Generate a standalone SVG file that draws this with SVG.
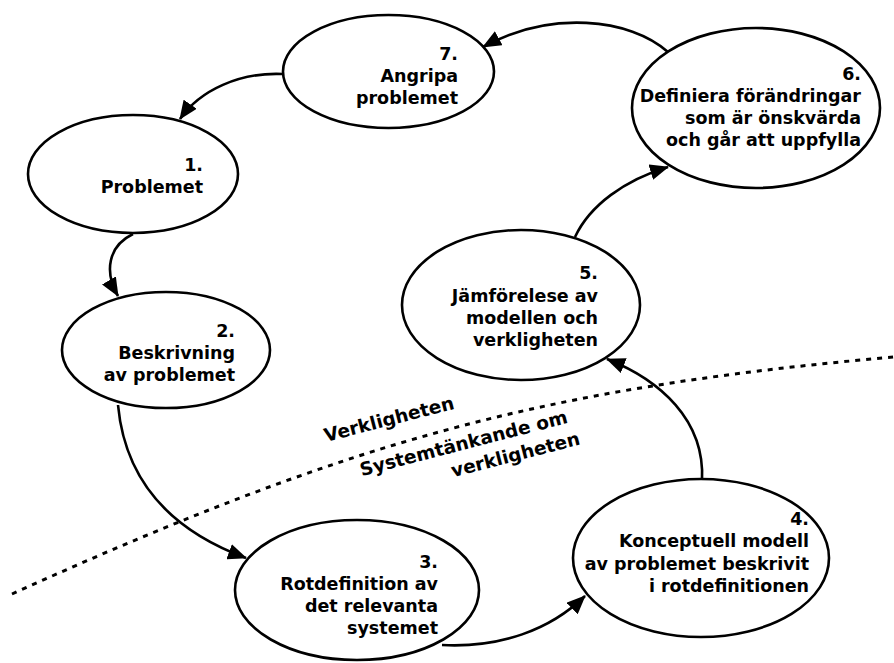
<svg xmlns="http://www.w3.org/2000/svg" width="894" height="663" viewBox="0 0 894 663">
  <style>
    .node ellipse { fill: #ffffff; stroke: #000000; stroke-width: 2.6; }
    .node text, .zone { font-family: "DejaVu Sans", Verdana, sans-serif; font-weight: bold; font-size: 17.5px; fill: #000000; text-anchor: end; }
    .zone { font-size: 18.5px; }
    .edge { fill: none; stroke: #000000; stroke-width: 2.6; marker-end: url(#arrow); }
    .border { fill: none; stroke: #000000; stroke-width: 3; stroke-dasharray: 5 6; }
  </style>
  <defs>
    <marker id="arrow" markerUnits="userSpaceOnUse" markerWidth="20" markerHeight="16" refX="18" refY="8" orient="auto">
      <path d="M0,0 L19,8 L0,16 z" fill="#000000"/>
    </marker>
  </defs>

  <rect width="894" height="663" fill="#ffffff"/>

  <!-- boundary between the real world and systems thinking -->
  <path class="border" d="M12,594 C158,528 304,468 450,429 C598,389 746,370 894,357"/>
  <text class="zone" style="text-anchor:start" transform="translate(326,442) rotate(-14.5)">Verkligheten</text>
  <text class="zone" transform="translate(575,421) rotate(-14.5)">
    <tspan x="0" y="0">Systemtänkande om</tspan>
    <tspan x="0" y="24">verkligheten</tspan>
  </text>

  <g id="connectors">
    <path class="edge" d="M668,52 C630,18 550,10 483,47"/>
    <path class="edge" d="M283,74 C240,72 200,90 180,119"/>
    <path class="edge" d="M133,234 C108,246 104,272 118,296"/>
    <path class="edge" d="M118,405 C125,480 170,530 246,558"/>
    <path class="edge" d="M442,645 C500,648 550,630 585,596"/>
    <path class="edge" d="M702,480 C705,420 660,380 607,359"/>
    <path class="edge" d="M575,237 C590,205 625,180 668,167"/>
  </g>

  <g id="node1" class="node">
    <ellipse cx="133" cy="174" rx="105" ry="59"/>
    <text x="203" y="171">1.</text>
    <text x="203" y="193">Problemet</text>
  </g>

  <g id="node2" class="node">
    <ellipse cx="166" cy="350" rx="104" ry="58"/>
    <text x="235" y="337">2.</text>
    <text x="235" y="359">Beskrivning</text>
    <text x="235" y="381">av problemet</text>
  </g>

  <g id="node3" class="node">
    <ellipse cx="357" cy="590" rx="122" ry="70"/>
    <text x="438" y="568">3.</text>
    <text x="438" y="590">Rotdefinition av</text>
    <text x="438" y="612">det relevanta</text>
    <text x="438" y="634">systemet</text>
  </g>

  <g id="node4" class="node">
    <ellipse cx="701" cy="558" rx="128" ry="79"/>
    <text x="809" y="525">4.</text>
    <text x="809" y="547">Konceptuell modell</text>
    <text x="809" y="570">av problemet beskrivit</text>
    <text x="809" y="592">i rotdefinitionen</text>
  </g>

  <g id="node5" class="node">
    <ellipse cx="521" cy="305" rx="119" ry="75"/>
    <text x="598" y="279">5.</text>
    <text x="598" y="302">Jämförelese av</text>
    <text x="598" y="324">modellen och</text>
    <text x="598" y="346">verkligheten</text>
  </g>

  <g id="node6" class="node">
    <ellipse cx="756" cy="108" rx="124" ry="80"/>
    <text x="861" y="80">6.</text>
    <text x="861" y="102">Definiera förändringar</text>
    <text x="861" y="124">som är önskvärda</text>
    <text x="861" y="146">och går att uppfylla</text>
  </g>

  <g id="node7" class="node">
    <ellipse cx="388.5" cy="71.5" rx="105.5" ry="56.5"/>
    <text x="458" y="60">7.</text>
    <text x="458" y="82">Angripa</text>
    <text x="458" y="104">problemet</text>
  </g>
</svg>
